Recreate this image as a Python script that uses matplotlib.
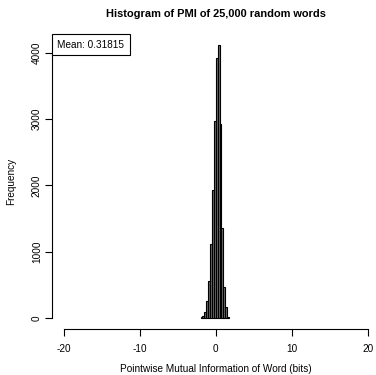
import matplotlib
matplotlib.use("Agg")
import matplotlib.pyplot as plt
import numpy as np

plt.rcParams["font.family"] = ["Liberation Sans", "DejaVu Sans"]
plt.rcParams["axes.unicode_minus"] = False

# histogram of PMI values (bin width 0.25 bits)
bin_edges = [-2.0, -1.75, -1.5, -1.25, -1.0, -0.75, -0.5, -0.25, 0.0,
             0.25, 0.5, 0.75, 1.0, 1.25, 1.5, 1.75]
counts = [10, 30, 90, 260, 560, 1120, 1930, 2980, 3925,
          4120, 2930, 1360, 470, 170, 20]
mean_pmi = 0.31815

x_ticks = [-20, -10, 0, 10, 20]
y_ticks = [0, 1000, 2000, 3000, 4000]

W, H = 376, 375
fig = plt.figure(figsize=(W / 100, H / 100), dpi=100)
# plot region (pixels): left 51.5, right 380, top 34, bottom 329
ax = fig.add_axes([51.5 / W, (H - 329) / H, (380 - 51.5) / W, (329 - 34) / H])

edges = np.array(bin_edges)
ax.bar(edges[:-1], counts, width=np.diff(edges), align="edge",
       color="#6e6e6e", edgecolor="black", linewidth=0.8)

ymax = max(counts)
ax.set_xlim(-20 - 0.04 * 40, 20 + 0.04 * 40)
ax.set_ylim(-0.04 * ymax, 1.04 * ymax)

for s in ["top", "right"]:
    ax.spines[s].set_visible(False)
ax.spines["left"].set_bounds(0, 4000)
ax.spines["bottom"].set_bounds(-20, 20)
for s in ["left", "bottom"]:
    ax.spines[s].set_linewidth(0.8)

ax.set_xticks(x_ticks)
ax.set_yticks(y_ticks)
ax.set_yticklabels([str(v) for v in y_ticks], rotation=90, va="center")
ax.tick_params(axis="both", labelsize=7.2, length=5, width=0.8)
ax.tick_params(axis="x", pad=6)
ax.tick_params(axis="y", pad=2)

ax.set_xlabel("Pointwise Mutual Information of Word (bits)", fontsize=7.2, labelpad=7)
ax.set_ylabel("Frequency", fontsize=7.2, labelpad=11)
ax.set_title("Histogram of PMI of 25,000 random words", fontsize=7.9,
             fontweight="bold", pad=12)

leg = ax.legend([plt.Line2D([], [], linestyle="none")], [f"Mean: {mean_pmi}"],
                loc="upper left", borderaxespad=0, fancybox=False,
                edgecolor="black", framealpha=1, handlelength=0,
                handletextpad=0, fontsize=7.2, borderpad=0.55)
leg.get_frame().set_linewidth(0.8)

fig.savefig("out.png", dpi=100)
